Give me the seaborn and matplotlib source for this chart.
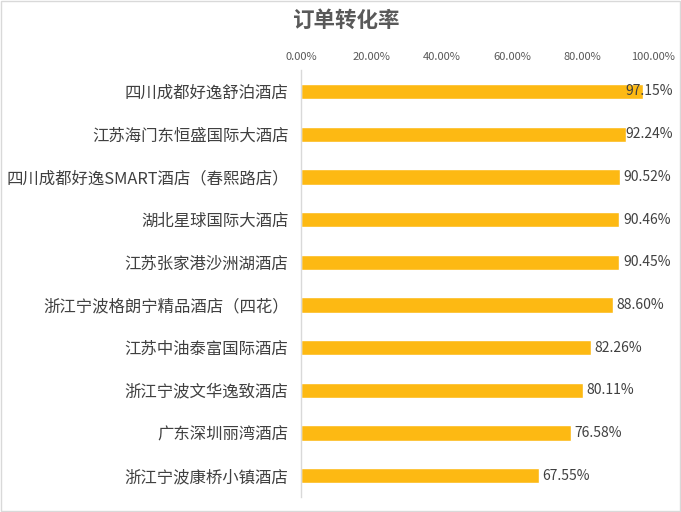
import numpy as np
import pandas as pd
import matplotlib
matplotlib.use('Agg')
import matplotlib.pyplot as plt
from matplotlib.patches import Rectangle
import seaborn as sns

# Данные
hotels = [
    "四川成都好逸舒泊酒店",
    "江苏海门东恒盛国际大酒店",
    "四川成都好逸SMART酒店（春熙路店）",
    "湖北星球国际大酒店",
    "江苏张家港沙洲湖酒店",
    "浙江宁波格朗宁精品酒店（四花）",
    "江苏中油泰富国际酒店",
    "浙江宁波文华逸致酒店",
    "广东深圳丽湾酒店",
    "浙江宁波康桥小镇酒店",
]
rates = [0.9715, 0.9224, 0.9052, 0.9046, 0.9045, 0.8860, 0.8226, 0.8011, 0.7658, 0.6755]
x_ticks = [0.0, 0.2, 0.4, 0.6, 0.8, 1.0]
title = "订单转化率"

df = pd.DataFrame({"hotel": hotels, "rate": rates})

sns.set_theme(style="white")
plt.rcParams['font.family'] = ['Noto Sans CJK SC', 'DejaVu Sans']

fig = plt.figure(figsize=(6.81, 5.12), dpi=100)
ax = fig.add_axes([0.442, 0.029, 0.517, 0.834])

sns.barplot(data=df, x="rate", y="hotel", color="#FDB913", width=0.36,
            saturation=1, ax=ax)

ax.set_xlim(0, 1.0)
ax.set_xticks(x_ticks)
ax.set_xticklabels([f"{t * 100:.2f}%" for t in x_ticks], fontsize=8, color="#595959")
ax.xaxis.tick_top()
ax.tick_params(axis="x", length=0, pad=6)
ax.set_xlabel("")
ax.set_ylabel("")

n = len(hotels)
ax.set_ylim(n - 0.5, -0.5)
ax.tick_params(axis="y", length=0, pad=9, labelsize=11.8, labelcolor="#404040")
ax.set_yticks(np.arange(-0.5, n, 1.0), minor=True)
ax.tick_params(axis="y", which="minor", length=5, color="#D9D9D9", width=1, direction="out")

for side in ["top", "right", "bottom"]:
    ax.spines[side].set_visible(False)
ax.spines["left"].set_color("#D9D9D9")
ax.spines["left"].set_linewidth(1)
ax.grid(False)

# Подписи значений
for i, v in enumerate(rates):
    x = min(v + 0.01, 0.92)
    ax.text(x, i, f"{v * 100:.2f}%", va="center", ha="left", fontsize=10,
            color="#404040", clip_on=False)

fig.text(0.507, 0.96, title, ha="center", va="center", fontsize=15.5,
         fontweight="bold", color="#595959")

fig.patches.append(Rectangle((0.001, 0.002), 0.997, 0.996, transform=fig.transFigure,
                             fill=False, edgecolor="#D9D9D9", linewidth=1))

fig.savefig("out.png", dpi=100, facecolor="white")
plt.close(fig)
